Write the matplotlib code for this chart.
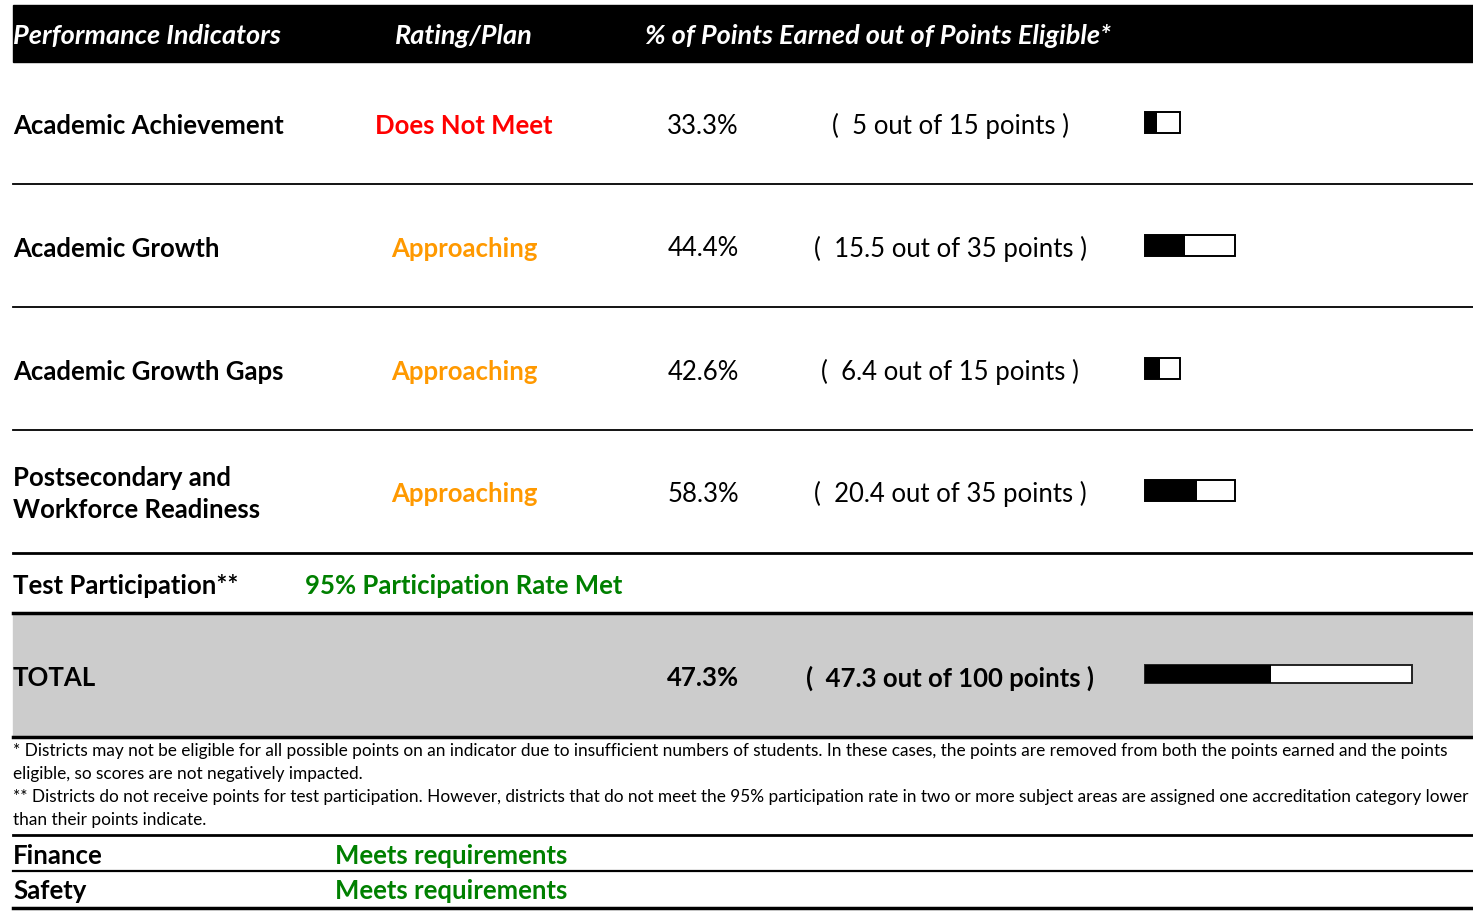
import matplotlib as mpl
mpl.use('Agg')
import matplotlib.pyplot as plt
from matplotlib.patches import Rectangle

plt.rcParams['font.family'] = ['Lato', 'DejaVu Sans']

headers = ['Performance Indicators', 'Rating/Plan', '% of Points Earned out of Points Eligible*']
indicators = ['Academic Achievement', 'Academic Growth', 'Academic Growth Gaps',
              'Postsecondary and\nWorkforce Readiness']
ratings = ['Does Not Meet', 'Approaching', 'Approaching', 'Approaching']
earned = [5, 15.5, 6.4, 20.4]
eligible = [15, 35, 15, 35]
pct = [33.3, 44.4, 42.6, 58.3]
total_earned = 47.3
total_eligible = 100
total_pct = 47.3
participation = 'Test Participation**'
participation_status = '95% Participation Rate Met'
other_items = ['Finance', 'Safety']
other_status = ['Meets requirements', 'Meets requirements']
footnotes = [
    '* Districts may not be eligible for all possible points on an indicator due to insufficient numbers of students. In these cases, the points are removed from both the points earned and the points',
    'eligible, so scores are not negatively impacted.',
    '** Districts do not receive points for test participation. However, districts that do not meet the 95% participation rate in two or more subject areas are assigned one accreditation category lower',
    'than their points indicate.',
]

rating_colors = {'Does Not Meet': '#FF0000', 'Approaching': '#FF9900'}
green = '#008000'

W, H = 1473, 911
fig = plt.figure(figsize=(W / 100, H / 100), dpi=100)
ax = fig.add_axes([0, 0, 1, 1])
ax.set_xlim(0, W)
ax.set_ylim(H, 0)
ax.axis('off')

x0 = 13
x_rate = 464
x_pct = 703
x_pts = 950
x_bar = 1145


def bar_len(pts):
    # pixel length of a bar for a number of eligible points
    return pts * 2.73 - 6


def draw_bar(y, got, out_of, h, edge):
    full = bar_len(out_of)
    ax.barh(y, full, height=h, left=x_bar, color='white', edgecolor=edge, lw=1.4, zorder=2)
    ax.barh(y, full * got / out_of, height=h, left=x_bar, color='black', zorder=3)


fs = 18.5
dy = 2  # text baseline nudge

# header band
ax.add_patch(Rectangle((x0, 5), W - x0, 57, color='black', zorder=1))
hdr = dict(color='white', fontsize=19.5, fontweight='bold', style='italic', va='center')
ax.text(x0, 36, headers[0], ha='left', **hdr)
ax.text(x_rate, 36, headers[1], ha='center', **hdr)
ax.text(645, 36, headers[2], ha='left', **hdr)

row_y = [124, 247, 370, 492]
sep_y = [184, 307, 430]

for y in sep_y:
    ax.plot([x0, W], [y, y], color='black', lw=1.3)

label_kw = dict(fontsize=fs, fontweight='bold', va='center')
for i, name in enumerate(indicators):
    y = row_y[i]
    ax.text(x0, y + dy, name, ha='left', linespacing=1.4, **label_kw)
    ax.text(x_rate, y + dy, ratings[i], ha='center', color=rating_colors[ratings[i]], **label_kw)
    ax.text(x_pct, y + dy, f'{pct[i]:.1f}%', ha='center', va='center', fontsize=fs)
    ax.text(x_pts, y + dy, f'(  {earned[i]:g} out of {eligible[i]} points )', ha='center', va='center', fontsize=fs)
    draw_bar(y - 2, earned[i], eligible[i], 21, 'black')

# test participation
ax.plot([x0, W], [553, 553], color='black', lw=2)
ax.text(x0, 584 + dy, participation, ha='left', **label_kw)
ax.text(x_rate, 584 + dy, participation_status, ha='center', color=green, **label_kw)

# total row
ax.add_patch(Rectangle((x0, 614), W - x0, 122, color='#CCCCCC', zorder=0))
ax.plot([x0, W], [613, 613], color='black', lw=2.5)
ax.plot([x0, W], [737, 737], color='black', lw=2.5)
ax.text(x0, 676 + dy, 'TOTAL', ha='left', **label_kw)
ax.text(x_pct, 676 + dy, f'{total_pct:.1f}%', ha='center', **label_kw)
ax.text(x_pts, 676 + dy, f'(  {total_earned:g} out of {total_eligible} points )', ha='center', **label_kw)
draw_bar(674, total_earned, total_eligible, 18, '#222222')

# footnotes
for i, line in enumerate(footnotes):
    ax.text(x0, 751 + i * 23, line, ha='left', va='center', fontsize=12.4)

# finance / safety
ax.plot([x0, W], [835, 835], color='black', lw=2)
ax.plot([x0, W], [871, 871], color='black', lw=1.6)
ax.plot([x0, W], [908, 908], color='black', lw=2.5)
for i, (item, status) in enumerate(zip(other_items, other_status)):
    y = 854 + i * 35
    ax.text(x0, y + dy, item, ha='left', **label_kw)
    ax.text(335, y + dy, status, ha='left', color=green, **label_kw)

fig.savefig('out.png', dpi=100)
